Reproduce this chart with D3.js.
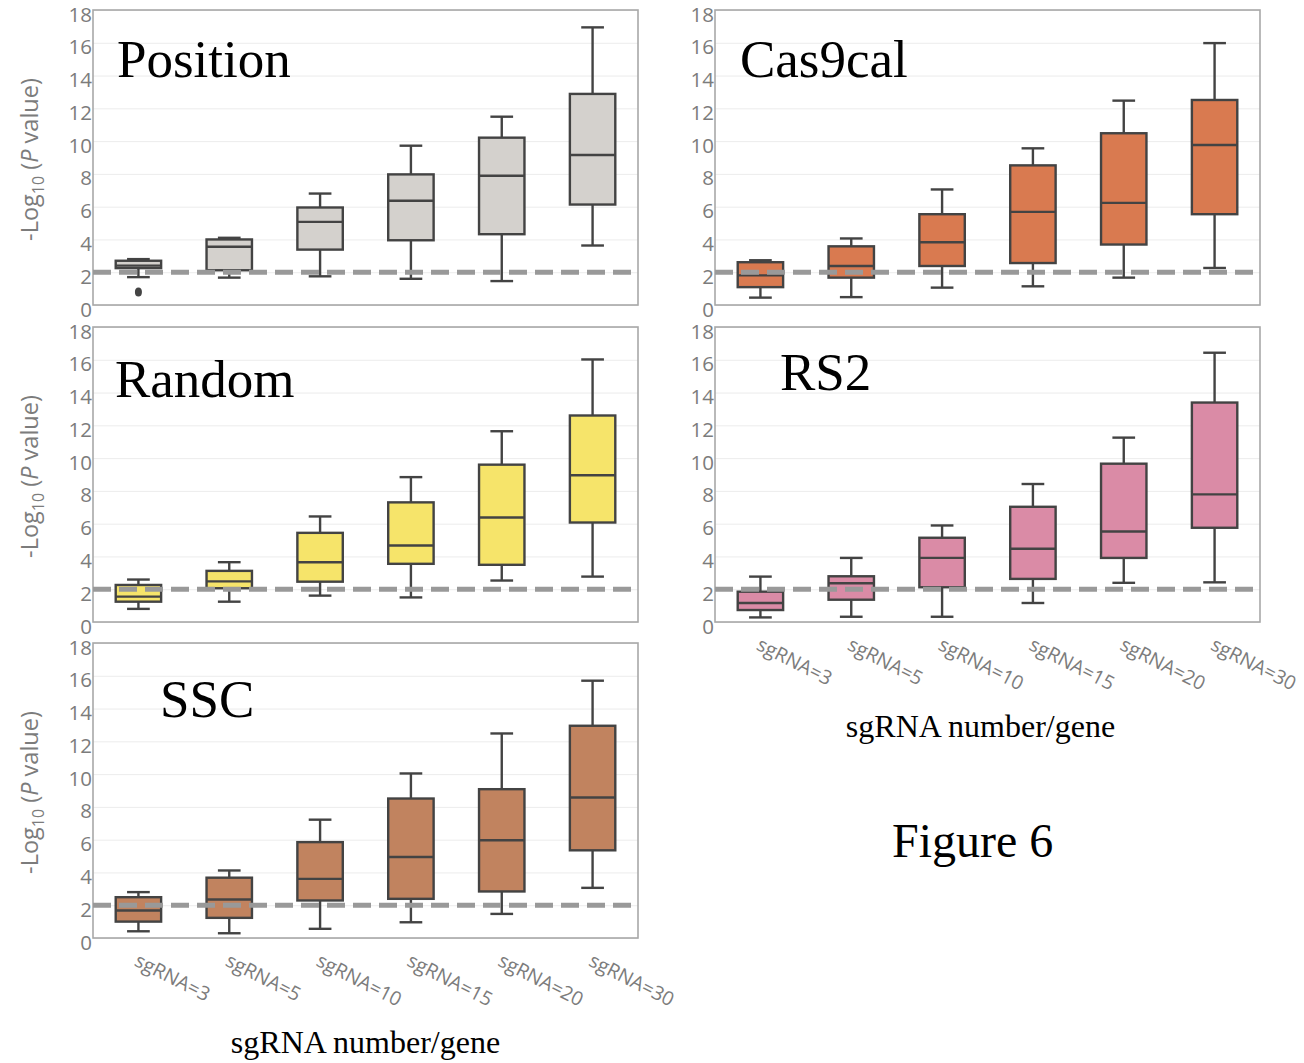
<!DOCTYPE html>
<html>
<head>
<meta charset="utf-8">
<script src="https://cdn.jsdelivr.net/npm/d3@7"></script>
<style>
  body { margin: 0; background: #fff; }
  svg { display: block; }
</style>
</head>
<body>
<svg></svg>
<script>
/*
*  DATA
*/

const categories = ['sgRNA=3', 'sgRNA=5', 'sgRNA=10', 'sgRNA=15', 'sgRNA=20', 'sgRNA=30']
const yTicks = [0, 2, 4, 6, 8, 10, 12, 14, 16, 18]
const threshold = 2

// each row: [min, q1, median, q3, max]
const positionStats = [
  [1.7, 2.25, 2.4, 2.7, 2.8],
  [1.67, 2.12, 3.55, 4.0, 4.1],
  [1.75, 3.38, 5.07, 5.95, 6.8],
  [1.6, 3.95, 6.36, 7.97, 9.72],
  [1.46, 4.32, 7.89, 10.21, 11.49],
  [3.63, 6.13, 9.15, 12.88, 16.94]
]
const positionOutliers = [['sgRNA=3', 0.8]]

const cas9calStats = [
  [0.45, 1.09, 1.81, 2.61, 2.73],
  [0.48, 1.67, 2.38, 3.58, 4.06],
  [1.06, 2.38, 3.83, 5.54, 7.05],
  [1.14, 2.56, 5.68, 8.52, 9.56],
  [1.67, 3.69, 6.23, 10.48, 12.47],
  [2.26, 5.54, 9.76, 12.51, 15.98]
]

const randomStats = [
  [0.8, 1.24, 1.55, 2.26, 2.59],
  [1.24, 2.06, 2.48, 3.12, 3.65],
  [1.61, 2.46, 3.65, 5.44, 6.44],
  [1.5, 3.55, 4.67, 7.3, 8.84],
  [2.53, 3.49, 6.38, 9.6, 11.64],
  [2.77, 6.07, 8.95, 12.6, 16.02]
]

const rs2Stats = [
  [0.28, 0.73, 1.16, 1.85, 2.77],
  [0.32, 1.36, 2.36, 2.79, 3.91],
  [0.32, 2.12, 3.91, 5.14, 5.89],
  [1.16, 2.63, 4.47, 7.03, 8.42],
  [2.39, 3.91, 5.52, 9.66, 11.25],
  [2.42, 5.75, 7.79, 13.39, 16.43]
]

const sscStats = [
  [0.41, 1.0, 1.68, 2.49, 2.8],
  [0.29, 1.23, 2.35, 3.68, 4.12],
  [0.56, 2.29, 3.61, 5.85, 7.22],
  [0.96, 2.39, 4.94, 8.51, 10.04],
  [1.47, 2.84, 5.96, 9.08, 12.48],
  [3.06, 5.35, 8.57, 12.95, 15.7]
]


/*
*  LAYOUT
*/

let width = 1304,
    height = 1063,
    pw = 545,
    ph = 295

let panels = [
  {name: 'Position', stats: positionStats, outliers: positionOutliers, fill: '#d4d1cd',
   x: 93, y: 10, tx: 24, ty: 67, yTitle: true, xLabels: false},
  {name: 'Cas9cal', stats: cas9calStats, outliers: [], fill: '#d97a50',
   x: 715, y: 10, tx: 25, ty: 67, yTitle: false, xLabels: false},
  {name: 'Random', stats: randomStats, outliers: [], fill: '#f6e46a',
   x: 93, y: 327, tx: 22, ty: 70, yTitle: true, xLabels: false},
  {name: 'RS2', stats: rs2Stats, outliers: [], fill: '#da8ba6',
   x: 715, y: 327, tx: 65, ty: 63, yTitle: false, xLabels: true, xtShift: -7},
  {name: 'SSC', stats: sscStats, outliers: [], fill: '#c1835f',
   x: 93, y: 643, tx: 67, ty: 74, yTitle: true, xLabels: true, xtShift: 0}
]

let svg = d3.select('svg').attr('width', width).attr('height', height)
svg.append('rect').attr('width', width).attr('height', height).attr('fill', '#fff')

let x = d3.scaleBand().domain(categories).range([0, pw])
let y = d3.scaleLinear().domain([0, 18]).range([ph, 0])
let bw = x.bandwidth() * 0.5

panels.forEach(drawPanel)

svg.append('text')
  .attr('x', 892).attr('y', 857)
  .style('font-family', '"Liberation Serif", "Times New Roman", serif')
  .style('font-size', '48px')
  .attr('fill', '#000')
  .text('Figure 6')


/*
*  HELPERS
*/

function drawPanel(p){
  let g = svg.append('g').attr('transform', `translate(${p.x},${p.y})`)

  // grid
  g.append('g')
    .call(d3.axisLeft(y).tickValues(yTicks).tickSize(-pw).tickFormat(''))
    .call(a => a.select('.domain').remove())
    .selectAll('line').attr('stroke', '#ececec').attr('stroke-width', 1)

  // tick labels
  g.append('g')
    .call(d3.axisLeft(y).tickValues(yTicks).tickSize(0).tickPadding(1))
    .call(a => a.select('.domain').remove())
    .selectAll('text')
      .attr('dy', '0.54em')
      .attr('fill', '#7c7c7c')
      .style('font-family', '"Open Sans", sans-serif')
      .style('font-size', '20.5px')

  // frame
  g.append('rect')
    .attr('width', pw).attr('height', ph)
    .attr('fill', 'none').attr('stroke', '#a8a8a8').attr('stroke-width', 1.6)

  // boxes
  let boxes = g.selectAll('.box')
    .data(p.stats.map((s, i) => ({cat: categories[i], s: s})))
    .enter().append('g')
    .attr('class', 'box')
    .attr('transform', d => `translate(${x(d.cat) + x.bandwidth() / 2},0)`)

  boxes.append('line')
    .attr('y1', d => y(d.s[0])).attr('y2', d => y(d.s[1]))
  boxes.append('line')
    .attr('y1', d => y(d.s[3])).attr('y2', d => y(d.s[4]))
  boxes.append('line')
    .attr('x1', -bw / 4).attr('x2', bw / 4)
    .attr('y1', d => y(d.s[0])).attr('y2', d => y(d.s[0]))
  boxes.append('line')
    .attr('x1', -bw / 4).attr('x2', bw / 4)
    .attr('y1', d => y(d.s[4])).attr('y2', d => y(d.s[4]))
  boxes.append('rect')
    .attr('x', -bw / 2).attr('width', bw)
    .attr('y', d => y(d.s[3]))
    .attr('height', d => y(d.s[1]) - y(d.s[3]))
    .attr('fill', p.fill)
  boxes.append('line')
    .attr('x1', -bw / 2).attr('x2', bw / 2)
    .attr('y1', d => y(d.s[2])).attr('y2', d => y(d.s[2]))
  boxes.selectAll('line, rect')
    .attr('stroke', '#434343').attr('stroke-width', 2.4)

  g.selectAll('.outlier')
    .data(p.outliers)
    .enter().append('ellipse')
    .attr('class', 'outlier')
    .attr('cx', d => x(d[0]) + x.bandwidth() / 2)
    .attr('cy', d => y(d[1]))
    .attr('rx', 3.5).attr('ry', 4.5)
    .attr('fill', '#444')

  // threshold
  g.append('line')
    .attr('x1', 0).attr('x2', pw)
    .attr('y1', y(threshold)).attr('y2', y(threshold))
    .attr('stroke', '#999').attr('stroke-width', 5)
    .attr('stroke-dasharray', '18 8')

  // panel title
  g.append('text')
    .attr('x', p.tx).attr('y', p.ty)
    .style('font-family', '"Liberation Serif", "Times New Roman", serif')
    .style('font-size', '53px')
    .attr('fill', '#000')
    .text(p.name)

  if(p.yTitle){
    let t = g.append('text')
      .attr('transform', `translate(${38 - p.x},${ph / 2 + 2}) rotate(-90)`)
      .attr('text-anchor', 'middle')
      .attr('fill', '#7c7c7c')
      .style('font-family', '"Open Sans", sans-serif')
      .style('font-size', '23.5px')
    t.append('tspan').text('-Log')
    t.append('tspan').attr('dy', 6).style('font-size', '16px').text('10')
    t.append('tspan').attr('dy', -6).text(' (')
    t.append('tspan').style('font-style', 'italic').text('P')
    t.append('tspan').text(' value)')
  }

  if(p.xLabels){
    g.selectAll('.xlab')
      .data(categories)
      .enter().append('text')
      .attr('class', 'xlab')
      .attr('transform', d => `translate(${x(d) + x.bandwidth() / 2 + 2},${ph + 13}) rotate(27)`)
      .attr('dy', '0.8em')
      .attr('fill', '#7c7c7c')
      .style('font-family', '"Open Sans", sans-serif')
      .style('font-size', '19.5px')
      .text(d => d)

    g.append('text')
      .attr('x', pw / 2 + p.xtShift).attr('y', ph + 115)
      .attr('text-anchor', 'middle')
      .style('font-family', '"Liberation Serif", "Times New Roman", serif')
      .style('font-size', '32px')
      .attr('fill', '#000')
      .text('sgRNA number/gene')
  }
}
</script>
</body>
</html>
